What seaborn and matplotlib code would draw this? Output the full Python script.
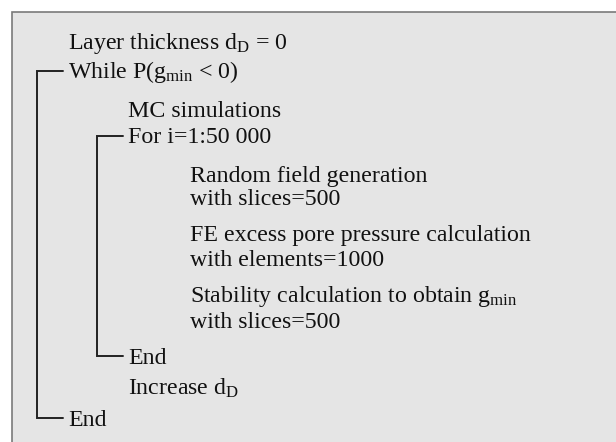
import matplotlib
matplotlib.use("Agg")
import matplotlib.pyplot as plt
import matplotlib.patches as mpatches
import seaborn as sns

# Pseudo-code lines of the algorithm and their nesting level
labels = [
    r"Layer thickness d$_{\mathrm{D}}$ = 0",
    r"While P(g$_{\mathrm{min}}$ < 0)",
    "MC simulations",
    "For i=1:50 000",
    "Random field generation",
    "with slices=500",
    "FE excess pore pressure calculation",
    "with elements=1000",
    r"Stability calculation to obtain g$_{\mathrm{min}}$",
    "with slices=500",
    "End",
    r"Increase d$_{\mathrm{D}}$",
    "End",
]
levels = [0, 0, 1, 1, 2, 2, 2, 2, 2, 2, 1, 1, 0]
# loops: (start row, end row) -> bracket at the level of the start row
loops = [(1, 12), (3, 10)]

# layout (pixels)
row_y = [49, 78, 117, 143, 182, 205, 241, 266, 302, 328, 364, 395, 426]
level_x = [68, 128, 190]
bracket_x = [37, 97]

sns.set_style("white")
plt.rcParams['font.family'] = ['Liberation Serif', 'DejaVu Serif']
plt.rcParams['mathtext.fontset'] = 'custom'
plt.rcParams['mathtext.rm'] = 'Liberation Serif'
plt.rcParams['mathtext.it'] = 'Liberation Serif:italic'

fig = plt.figure(figsize=(6.16, 4.42), dpi=100)
ax = fig.add_axes([0, 0, 1, 1])
ax.set_xlim(0, 616)
ax.set_ylim(442, 0)
ax.axis('off')

# grey panel
ax.add_patch(mpatches.Rectangle((11.5, 11.5), 620, 440, facecolor='#e5e5e5',
                                edgecolor='#7a7a7a', linewidth=1.2))

for lab, lev, y in zip(labels, levels, row_y):
    ax.text(level_x[lev], y, lab, fontsize=17.2, va='baseline', ha='left', color='#111111')

# loop brackets
for start, end in loops:
    lev = levels[start]
    bx = bracket_x[lev]
    y0 = row_y[start] - 7
    y1 = row_y[end] - 8
    ax.plot([level_x[lev] - 5, bx, bx, level_x[lev] - 5], [y0, y0, y1, y1],
            color='#222222', lw=1.4, solid_joinstyle='miter')

fig.savefig('out.png', dpi=100)
